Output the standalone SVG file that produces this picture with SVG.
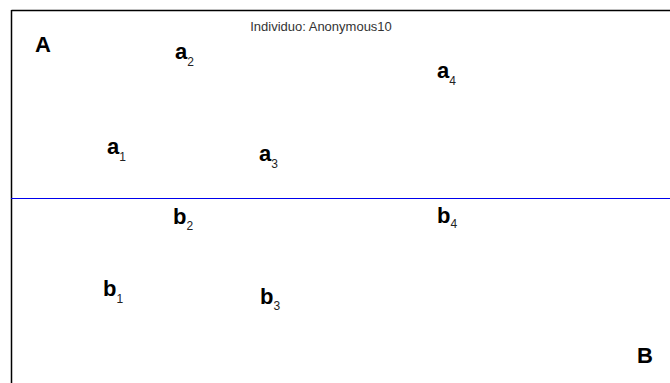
<svg xmlns="http://www.w3.org/2000/svg" width="670" height="383" viewBox="0 0 670 383">
<style>
.lbl{font-family:"Liberation Sans",Arial,sans-serif;font-weight:bold;font-size:22px;fill:#000}
.sub{font-weight:normal;font-size:12px;fill:#222}
.title{font-family:"Liberation Sans",Arial,sans-serif;font-size:13px;fill:#333}
</style>
<rect x="0" y="0" width="670" height="383" fill="#fff"/>
<g id="frame">
<line x1="11.5" y1="10.5" x2="670" y2="10.5" stroke="#000" stroke-width="1.5"/>
<line x1="11.5" y1="10" x2="11.5" y2="383" stroke="#000" stroke-width="1.5"/>
<line x1="11" y1="198.5" x2="670" y2="198.5" stroke="#0000ee" stroke-width="1"/>
</g>
<g id="title"><text class="title" x="321" y="31" text-anchor="middle">Individuo: Anonymous10</text></g>
<g id="A"><text class="lbl" x="35" y="52">A</text></g>
<g id="B"><text class="lbl" x="637" y="363">B</text></g>
<g id="a1"><text class="lbl" x="107" y="154">a<tspan class="sub" dy="7">1</tspan></text></g>
<g id="a2"><text class="lbl" x="175" y="59">a<tspan class="sub" dy="7">2</tspan></text></g>
<g id="a3"><text class="lbl" x="259" y="161">a<tspan class="sub" dy="7">3</tspan></text></g>
<g id="a4"><text class="lbl" x="437" y="78">a<tspan class="sub" dy="7">4</tspan></text></g>
<g id="b1"><text class="lbl" x="103" y="296">b<tspan class="sub" dy="7">1</tspan></text></g>
<g id="b2"><text class="lbl" x="173" y="224">b<tspan class="sub" dy="6">2</tspan></text></g>
<g id="b3"><text class="lbl" x="260" y="304">b<tspan class="sub" dy="6">3</tspan></text></g>
<g id="b4"><text class="lbl" x="437" y="223">b<tspan class="sub" dy="5">4</tspan></text></g>
</svg>
